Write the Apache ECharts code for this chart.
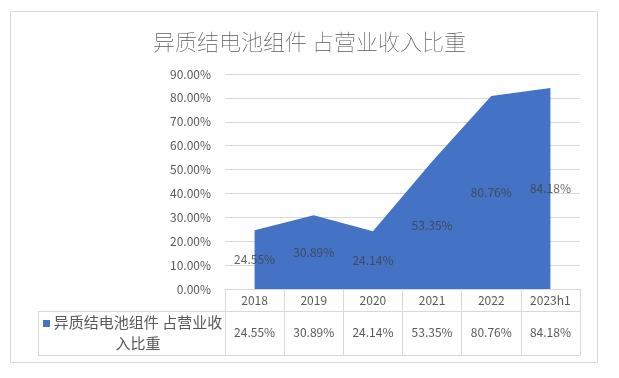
<!DOCTYPE html>
<html>
<head>
<meta charset="utf-8">
<script src="https://cdn.jsdelivr.net/npm/echarts@6/dist/echarts.min.js"></script>
<style>
  html, body { margin: 0; padding: 0; background: #fff; }
  #chart { width: 619px; height: 378px; }
</style>
</head>
<body>
<div id="chart"></div>
<script>
  // data
  const years = ['2018', '2019', '2020', '2021', '2022', '2023h1'];
  const shares = [24.55, 30.89, 24.14, 53.35, 80.76, 84.18];
  const seriesName = '异质结电池组件 占营业收入比重';

  const font = '"Noto Sans CJK SC", "Noto Sans", sans-serif';
  const txt = '#595959';
  const line = '#d9d9d9';

  const chart = echarts.init(document.getElementById('chart'));

  // excel puts area labels at half height
  const labelPos = shares.map((v) => v / 2);

  const option = {
    animation: false,
    textStyle: { fontFamily: font },
    title: {
      text: seriesName,
      left: 'center',
      top: 26,
      textStyle: { fontSize: 22, fontWeight: 'lighter', color: txt, fontFamily: font },
    },
    grid: { left: 225, right: 39, top: 74, bottom: 89 },
    xAxis: [
      {
        type: 'category',
        data: years,
        boundaryGap: true,
        axisLine: { lineStyle: { color: line } },
        axisTick: { show: true, length: 66, inside: false, lineStyle: { color: line } },
        axisLabel: { color: txt, fontSize: 12, margin: 5, fontFamily: font },
      },
      {
        type: 'category',
        data: shares.map((v) => v.toFixed(2) + '%'),
        position: 'bottom',
        offset: 37,
        axisLine: { show: false },
        axisTick: { show: false },
        axisLabel: { color: txt, fontSize: 12, margin: 0, fontFamily: font },
      },
    ],
    yAxis: {
      type: 'value',
      min: 0,
      max: 90,
      interval: 10,
      axisLine: { show: false },
      axisTick: { show: false },
      splitLine: { lineStyle: { color: line } },
      axisLabel: {
        color: txt,
        fontSize: 12,
        margin: 14,
        fontFamily: font,
        formatter: (v) => v.toFixed(2) + '%',
      },
    },
    series: [
      {
        name: seriesName,
        type: 'line',
        data: shares,
        symbol: 'none',
        z: 2,
        lineStyle: { width: 0 },
        areaStyle: { color: '#4472C4', opacity: 1 },
      },
      {
        type: 'scatter',
        data: labelPos,
        symbolSize: 1,
        itemStyle: { color: 'rgba(0,0,0,0)' },
        silent: true,
        z: 10,
        zlevel: 1,
        label: {
          show: true,
          position: 'inside',
          color: '#404040',
          fontSize: 12,
          fontFamily: font,
          formatter: (p) => shares[p.dataIndex].toFixed(2) + '%',
        },
      },
    ],
    graphic: [
      // outer chart border
      { type: 'rect', shape: { x: 10.5, y: 11.5, width: 587, height: 351 }, style: { fill: null, stroke: line, lineWidth: 1 } },
      // data table lines
      { type: 'line', shape: { x1: 38, y1: 311.5, x2: 580, y2: 311.5 }, style: { stroke: line, lineWidth: 1 } },
      { type: 'line', shape: { x1: 38, y1: 355.5, x2: 580, y2: 355.5 }, style: { stroke: line, lineWidth: 1 } },
      { type: 'line', shape: { x1: 38.5, y1: 311, x2: 38.5, y2: 356 }, style: { stroke: line, lineWidth: 1 } },
      // legend key in the table
      { type: 'rect', shape: { x: 43, y: 320, width: 7, height: 7 }, style: { fill: '#4472C4' } },
      {
        type: 'text',
        x: 138,
        y: 333,
        style: {
          text: '异质结电池组件 占营业收\n入比重',
          fill: txt,
          font: '15px ' + font,
          align: 'center',
          verticalAlign: 'middle',
          lineHeight: 21,
        },
      },
    ],
  };

  chart.setOption(option);
</script>
</body>
</html>
